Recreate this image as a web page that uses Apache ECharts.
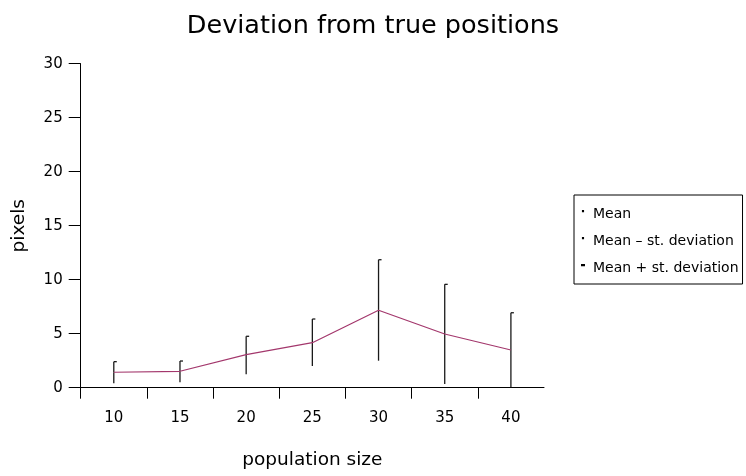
<!DOCTYPE html>
<html><head><meta charset="utf-8">
<script src="https://cdn.jsdelivr.net/npm/echarts@6/dist/echarts.min.js"></script>
<style>html,body{margin:0;padding:0;background:#fff}#c{width:746px;height:476px}</style>
</head><body><div id="c"></div>
<script>
const populationSizes = [10, 15, 20, 25, 30, 35, 40];
const meanValues  = [1.43, 1.52, 3.06, 4.17, 7.17, 4.97, 3.49];
const lowerValues = [0.41, 0.50, 1.24, 2.00, 2.50, 0.34, 0.04];
const upperValues = [2.41, 2.47, 4.76, 6.36, 11.85, 9.57, 6.94];
const yTickLabels = [0, 5, 10, 15, 20, 25, 30];
const seriesNames = ['Mean', 'Mean \u2013 st. deviation', 'Mean + st. deviation'];

const FONT = 'DejaVu Sans';
const BAR_COLOR = '#1a1a1a';
const xStep = populationSizes[1] - populationSizes[0];
const xTickBoundaries = populationSizes.map(v => v - xStep / 2);

const meanData = populationSizes.map((x, i) => [x, meanValues[i]]);
const lowerData = populationSizes.map((x, i) => [x, lowerValues[i], meanValues[i]]);
const upperData = populationSizes.map((x, i) => [x, meanValues[i], upperValues[i]]);

function renderLower(params, api) {
  const p1 = api.coord([api.value(0), api.value(1)]);
  const p2 = api.coord([api.value(0), api.value(2)]);
  return { type: 'line', shape: { x1: p1[0], y1: p1[1], x2: p2[0], y2: p2[1] },
           style: { stroke: BAR_COLOR, lineWidth: 1.3 } };
}
function renderUpper(params, api) {
  const p1 = api.coord([api.value(0), api.value(1)]);
  const p2 = api.coord([api.value(0), api.value(2)]);
  return { type: 'group', children: [
    { type: 'line', shape: { x1: p1[0], y1: p1[1], x2: p2[0], y2: p2[1] },
      style: { stroke: BAR_COLOR, lineWidth: 1.3 } },
    { type: 'line', shape: { x1: p2[0], y1: p2[1], x2: p2[0] + 3, y2: p2[1] },
      style: { stroke: BAR_COLOR, lineWidth: 1.3 } }
  ] };
}

const dotIcon  = 'path://M0,0h1.6v1.6h-1.6z M0,6h0.01v0.01h-0.01z';
const dashIcon = 'path://M0,0h3v1.6h-3z M0,6h0.01v0.01h-0.01z';

const chart = echarts.init(document.getElementById('c'), null, { renderer: 'canvas' });
chart.setOption({
  animation: false,
  backgroundColor: '#fff',
  title: {
    text: 'Deviation from true positions',
    left: 'center', top: 8,
    textStyle: { fontFamily: FONT, fontSize: 25.5, fontWeight: 'normal', color: '#000' }
  },
  grid: { left: 80.7, right: 202, top: 63.7, bottom: 88.3, containLabel: false },
  legend: {
    orient: 'vertical', left: 574, top: 195,
    borderColor: '#000', borderWidth: 1, padding: [10, 4, 7, 7],
    itemWidth: 4, itemHeight: 8, itemGap: 9,
    textStyle: { fontFamily: FONT, fontSize: 14, color: '#000', lineHeight: 18, padding: [0, 0, 0, 3] },
    data: [
      { name: seriesNames[0], icon: dotIcon, itemStyle: { color: '#000' } },
      { name: seriesNames[1], icon: dotIcon, itemStyle: { color: '#000' } },
      { name: seriesNames[2], icon: dashIcon, itemStyle: { color: '#000' } }
    ]
  },
  xAxis: {
    type: 'value', min: populationSizes[0] - xStep / 2, max: populationSizes[populationSizes.length - 1] + xStep / 2,
    name: 'population size', nameLocation: 'middle', nameGap: 63,
    nameTextStyle: { fontFamily: FONT, fontSize: 18.5, color: '#000' },
    axisLine: { show: true, onZero: false, lineStyle: { color: '#000', width: 1 } },
    axisTick: { show: true, inside: false, length: 11, customValues: xTickBoundaries, lineStyle: { color: '#000' } },
    axisLabel: { customValues: populationSizes, margin: 23, fontFamily: FONT, fontSize: 15, color: '#000' },
    splitLine: { show: false }
  },
  yAxis: {
    type: 'value', min: 0, max: 30, interval: 5,
    name: 'pixels', nameLocation: 'middle', nameGap: 52, nameRotate: 90,
    nameTextStyle: { fontFamily: FONT, fontSize: 18.5, color: '#000' },
    axisLine: { show: true, lineStyle: { color: '#000', width: 1 } },
    axisTick: { show: true, inside: false, length: 12, lineStyle: { color: '#000' } },
    axisLabel: { margin: 18, fontFamily: FONT, fontSize: 15, color: '#000',
                 formatter: v => (yTickLabels.indexOf(v) >= 0 ? String(v) : '') },
    splitLine: { show: false }
  },
  series: [
    { name: seriesNames[1], type: 'custom', renderItem: renderLower, data: lowerData,
      itemStyle: { color: '#000' }, encode: { x: 0, y: [1, 2] }, z: 2 },
    { name: seriesNames[2], type: 'custom', renderItem: renderUpper, data: upperData,
      itemStyle: { color: '#000' }, encode: { x: 0, y: [1, 2] }, z: 2 },
    { name: seriesNames[0], type: 'line', data: meanData, symbol: 'none',
      lineStyle: { color: '#A3376C', width: 1.2 }, itemStyle: { color: '#000' }, z: 3 }
  ]
});
</script></body></html>
